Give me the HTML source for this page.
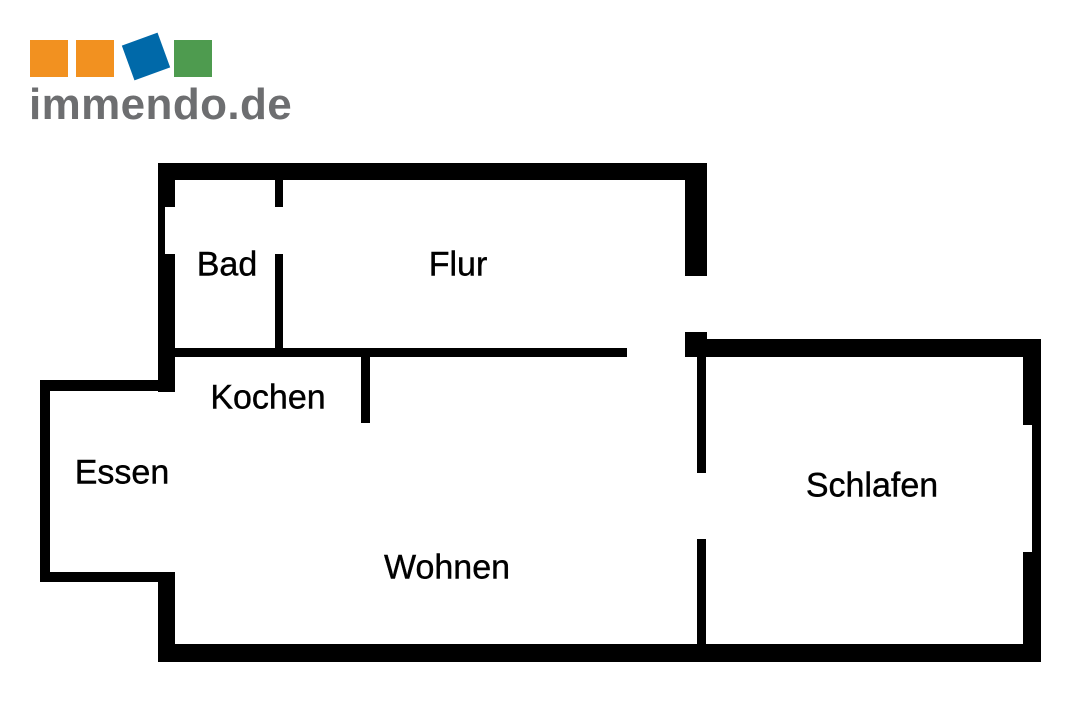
<!DOCTYPE html>
<html><head><meta charset="utf-8"><style>
html,body{margin:0;padding:0;background:#fff;}
body{width:1080px;height:720px;position:relative;overflow:hidden;font-family:"Liberation Sans",sans-serif;}
.b{position:absolute;background:#000;}
.l{position:absolute;font-size:34px;color:#000;white-space:nowrap;transform:translate(-50%,-50%);-webkit-text-stroke:0.4px #000;}
</style></head><body>
<div style="position:absolute;left:30px;top:40px;width:38px;height:37px;background:#f29120"></div>
<div style="position:absolute;left:76px;top:40px;width:38px;height:37px;background:#f29120"></div>
<div style="position:absolute;left:127px;top:38px;width:38px;height:37px;background:#0069a9;transform:rotate(-20deg)"></div>
<div style="position:absolute;left:174px;top:40px;width:38px;height:37px;background:#4e9b4f"></div>
<div style="position:absolute;left:29px;top:80px;font-size:44px;font-weight:bold;color:#6d6e70;letter-spacing:0.4px">immendo.de</div>

<div class="b" style="left:158px;top:163px;width:549px;height:17px"></div>
<div class="b" style="left:685px;top:163px;width:22px;height:113px"></div>
<div class="b" style="left:158px;top:163px;width:17px;height:44px"></div>
<div class="b" style="left:158px;top:207px;width:7px;height:47px"></div>
<div class="b" style="left:158px;top:254px;width:17px;height:138px"></div>
<div class="b" style="left:40px;top:380px;width:135px;height:11px"></div>
<div class="b" style="left:40px;top:380px;width:10px;height:202px"></div>
<div class="b" style="left:40px;top:572px;width:135px;height:10px"></div>
<div class="b" style="left:158px;top:572px;width:17px;height:90px"></div>
<div class="b" style="left:158px;top:644px;width:883px;height:18px"></div>
<div class="b" style="left:275px;top:180px;width:8px;height:27px"></div>
<div class="b" style="left:275px;top:254px;width:8px;height:100px"></div>
<div class="b" style="left:175px;top:348px;width:452px;height:9px"></div>
<div class="b" style="left:361px;top:357px;width:9px;height:66px"></div>
<div class="b" style="left:685px;top:332px;width:22px;height:25px"></div>
<div class="b" style="left:685px;top:339px;width:356px;height:18px"></div>
<div class="b" style="left:1023px;top:339px;width:18px;height:86px"></div>
<div class="b" style="left:1032px;top:425px;width:9px;height:127px"></div>
<div class="b" style="left:1023px;top:552px;width:18px;height:110px"></div>
<div class="b" style="left:697px;top:357px;width:9px;height:116px"></div>
<div class="b" style="left:697px;top:539px;width:9px;height:110px"></div>

<div class="l" style="left:227px;top:265px">Bad</div>
<div class="l" style="left:458px;top:265px">Flur</div>
<div class="l" style="left:268px;top:398px">Kochen</div>
<div class="l" style="left:122px;top:473px">Essen</div>
<div class="l" style="left:447px;top:568px">Wohnen</div>
<div class="l" style="left:872px;top:486px">Schlafen</div>
</body></html>
